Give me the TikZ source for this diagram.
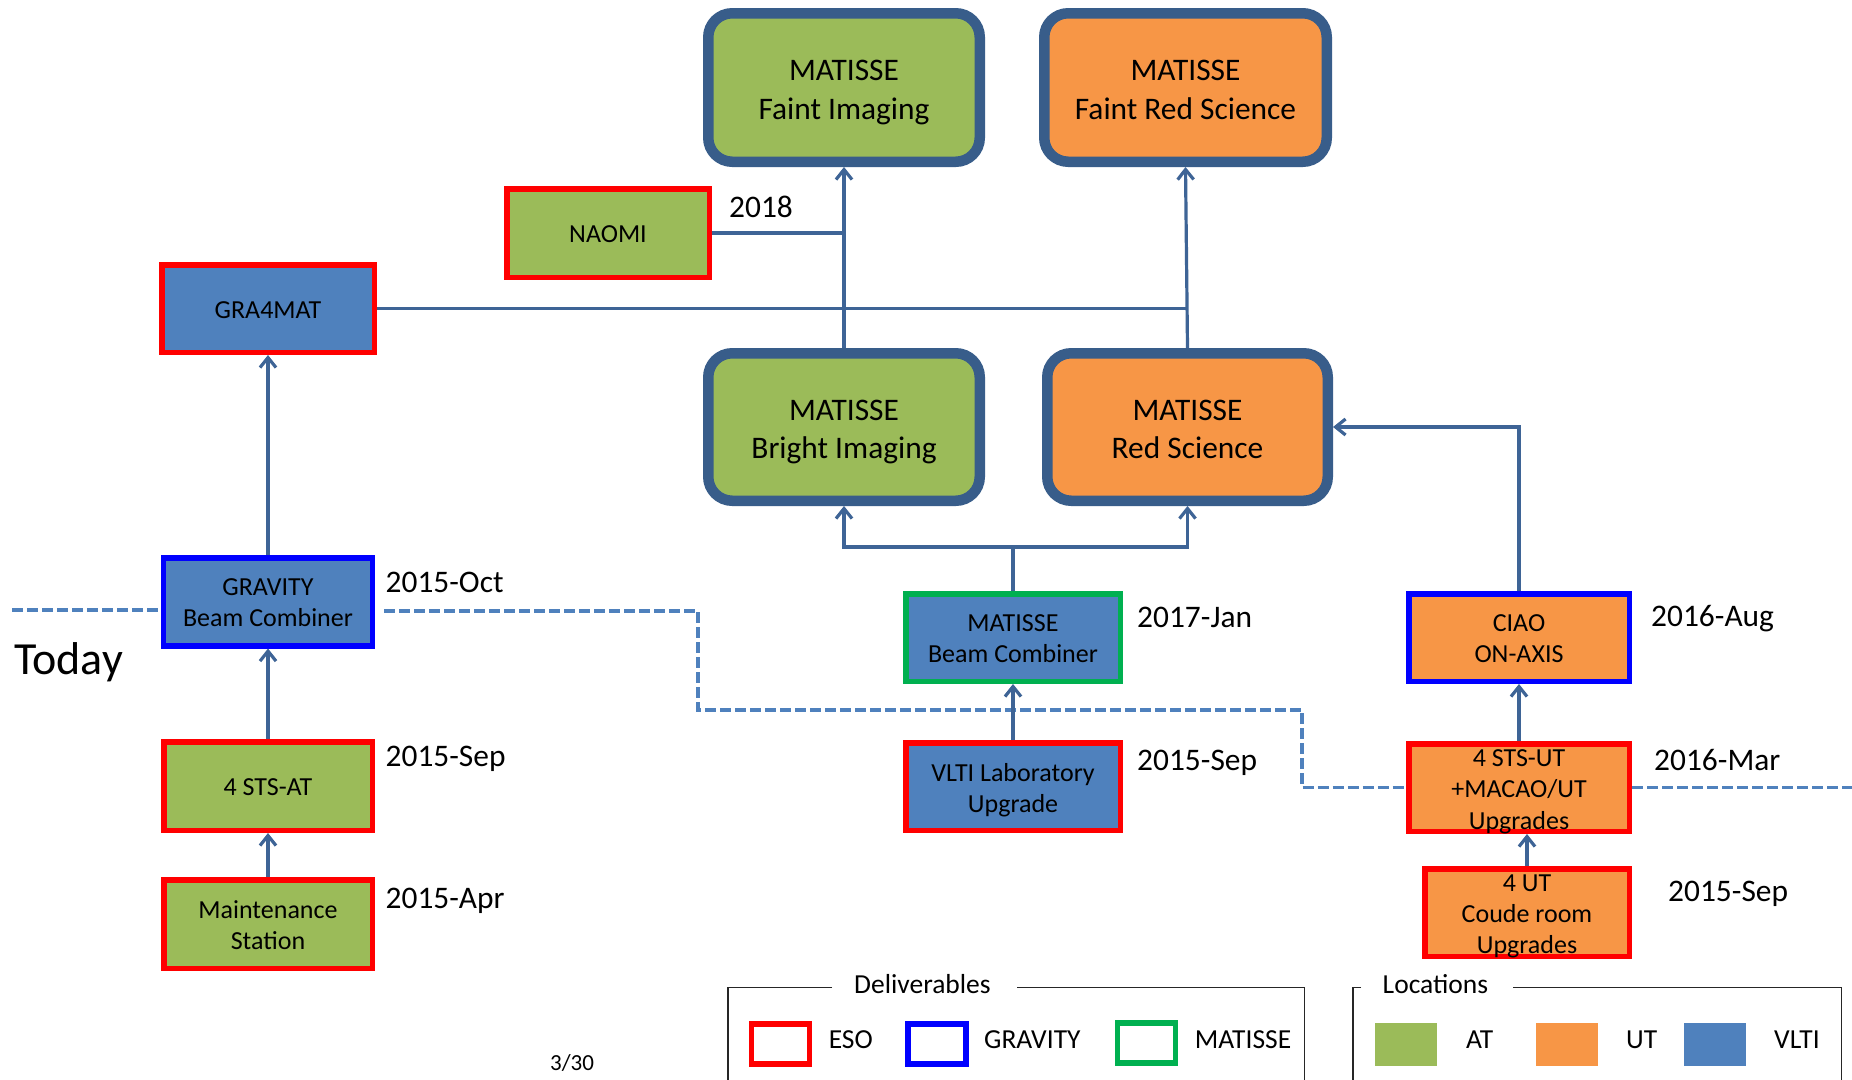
\documentclass[tikz,border=0pt]{standalone}
\usepackage{fontspec}
\setmainfont{Carlito}
\usetikzlibrary{arrows.meta}
\definecolor{cGreen}{HTML}{9BBB59}
\definecolor{cOrange}{HTML}{F79646}
\definecolor{cBlue}{HTML}{4F81BD}
\definecolor{cBord}{HTML}{385D8A}
\definecolor{cConn}{HTML}{3E6496}
\definecolor{cRed}{HTML}{FF0000}
\definecolor{cVivid}{HTML}{0000FF}
\definecolor{cMat}{HTML}{00B050}
\newcommand\fBig{\fontsize{31.4pt}{38.6pt}\selectfont}
\newcommand\fSmall{\fontsize{26pt}{31pt}\selectfont}
\newcommand\fSmallT{\fontsize{26pt}{31.3pt}\selectfont}
\newcommand\fDate{\fontsize{31.4pt}{38pt}\selectfont}
\newcommand\fLeg{\fontsize{27.5pt}{33pt}\selectfont}
\newcommand\fToday{\fontsize{46pt}{55pt}\selectfont}
\newcommand\fPage{\fontsize{23pt}{28pt}\selectfont}
\tikzset{
  bigbox/.style={rectangle, rounded corners=24pt, draw=cBord, line width=10.5pt, inner sep=0pt},
  smallbox/.style={rectangle, line width=5.5pt, inner sep=0pt},
  bigtext/.style={align=center, font=\fBig, inner sep=0pt, text depth=6.5pt, yshift=-5.5pt},
  smalltext/.style={align=center, font=\fSmall, inner sep=0pt, text depth=5.4pt, yshift=-3.8pt},
  threetext/.style={align=center, font=\fSmallT, inner sep=0pt, text depth=5.4pt, yshift=-4.5pt},
  conn/.style={draw=cConn, line width=3.2pt},
  arr/.style={conn, -{Straight Barb[length=10pt,width=16pt]}},
  todayline/.style={draw=cBlue, line width=3.5pt, dash pattern=on 11pt off 4pt},
  datelbl/.style={anchor=base west, inner sep=0pt, font=\fDate},
  leglbl/.style={anchor=base west, inner sep=0pt, font=\fLeg},
  legline/.style={draw=black!85, line width=1.5pt},
  legsq/.style={rectangle, fill=white, line width=5.5pt, minimum width=58pt, minimum height=40pt, inner sep=0pt},
  locsq/.style={rectangle, minimum width=62pt, minimum height=43pt, inner sep=0pt}
}
\begin{document}
\begin{tikzpicture}[x=1pt,y=-1pt]
\useasboundingbox (0,0) rectangle (1852,1079);
\fill[white] (0,0) rectangle (1852,1079);

% big MATISSE boxes
\node[bigbox, fill=cGreen, minimum width=271.5pt, minimum height=148.5pt] (faint) at (844,87.5) {};
\node[bigbox, fill=cOrange, minimum width=282.5pt, minimum height=148.5pt] (faintred) at (1185.5,87.5) {};
\node[bigbox, fill=cGreen, minimum width=271.5pt, minimum height=147.5pt] (bright) at (844,427) {};
\node[bigbox, fill=cOrange, minimum width=280.5pt, minimum height=147.5pt] (red) at (1187.5,427) {};
\node[bigtext] (faintT) at (faint.center) {MATISSE\\Faint Imaging};
\node[bigtext] (faintredT) at (faintred.center) {MATISSE\\Faint Red Science};
\node[bigtext] (brightT) at (bright.center) {MATISSE\\Bright Imaging};
\node[bigtext] (redT) at (red.center) {MATISSE\\Red Science};

% small boxes
\node[smallbox, fill=cBlue, draw=cRed, minimum width=212.5pt, minimum height=87.5pt] (gra4) at (268,308.5) {};
\node[smallbox, fill=cGreen, draw=cRed, minimum width=202.5pt, minimum height=88.5pt] (naomi) at (608,233) {};
\node[smallbox, fill=cBlue, draw=cVivid, minimum width=209pt, minimum height=88pt] (grav) at (268,601.8) {};
\node[smallbox, fill=cGreen, draw=cRed, minimum width=208.5pt, minimum height=88.5pt] (stsat) at (268,786) {};
\node[smallbox, fill=cGreen, draw=cRed, minimum width=208.5pt, minimum height=88.5pt] (maint) at (268,924) {};
\node[smallbox, fill=cBlue, draw=cMat, minimum width=214.5pt, minimum height=87.5pt] (mbc) at (1013,637.5) {};
\node[smallbox, fill=cBlue, draw=cRed, minimum width=214.5pt, minimum height=87.5pt] (vlti) at (1013,786.5) {};
\node[smallbox, fill=cOrange, draw=cVivid, minimum width=220.5pt, minimum height=87.5pt] (ciao) at (1519,637.5) {};
\node[smallbox, fill=cOrange, draw=cRed, minimum width=220.5pt, minimum height=87.5pt] (stsut) at (1519,787.5) {};
\node[smallbox, fill=cOrange, draw=cRed, minimum width=204.5pt, minimum height=87.5pt] (ut4) at (1527,912.5) {};
\node[smalltext] (gra4T) at (gra4.center) {GRA4MAT};
\node[smalltext] (naomiT) at (naomi.center) {NAOMI};
\node[smalltext] (gravT) at (grav.center) {GRAVITY\\Beam Combiner};
\node[smalltext] (stsatT) at (stsat.center) {4 STS-AT};
\node[smalltext] (maintT) at (maint.center) {Maintenance\\Station};
\node[smalltext] (mbcT) at (mbc.center) {MATISSE\\Beam Combiner};
\node[smalltext] (vltiT) at (vlti.center) {VLTI Laboratory\\Upgrade};
\node[smalltext] (ciaoT) at (ciao.center) {CIAO\\ON-AXIS};
\node[threetext] (stsutT) at (stsut.center) {4 STS-UT\\+MACAO/UT\\Upgrades};
\node[threetext] (ut4T) at (ut4.center) {4 UT\\Coude room\\Upgrades};

% today line
\coordinate (t0) at (12,610);
\coordinate (t1) at (384,611);
\coordinate (t2) at (698,611);
\coordinate (t3) at (698,710);
\coordinate (t4) at (1302,710);
\coordinate (t5) at (1302,787.5);
\coordinate (t6) at (1852,787.5);
\draw[todayline] (t0) -- (t0 -| grav.west);
\draw[todayline] (t1) -- (t2) -- (t3) -- (t4) -- (t5) -- (stsut.west);
\draw[todayline] (stsut.east) -- (t6);

% connectors
\draw[arr] (grav.north) -- (gra4.south);
\draw[arr] (stsat.north) -- (grav.south);
\draw[arr] (maint.north) -- (stsat.south);
\draw[arr] (vlti.north) -- (mbc.south);
\coordinate (j1) at (1013,547);
\draw[conn] (mbc.north) -- (j1);
\draw[arr] (j1) -| (bright.south);
\draw[arr] (j1) -| (red.south);
\draw[arr] (bright.north) -- (faint.south);
\draw[arr] (red.north) -- (faintred.south);
\draw[conn] (gra4.east) -- (gra4.east -| faintred.south);
\draw[conn] (naomi.east) -- (naomi.east -| faint.south);
\draw[arr] (ciao.north) |- (red.east);
\draw[arr] (stsut.north) -- (ciao.south);
\draw[arr] (ut4.north) -- (ut4.north |- stsut.south);

% labels
\node[anchor=base west, inner sep=0pt, font=\fToday] (today) at (14,674) {Today};
\node[datelbl] (d2018) at (729,217) {2018};
\node[datelbl] (doct) at (385.5,592) {2015-Oct};
\node[datelbl] (dsep1) at (385.5,766) {2015-Sep};
\node[datelbl] (dapr) at (385.5,908) {2015-Apr};
\node[datelbl] (djan) at (1137,627) {2017-Jan};
\node[datelbl] (dsep2) at (1137,770) {2015-Sep};
\node[datelbl] (daug) at (1651,626) {2016-Aug};
\node[datelbl] (dmar) at (1654,770) {2016-Mar};
\node[datelbl] (dsep3) at (1668,901) {2015-Sep};
\node[anchor=base west, inner sep=0pt, font=\fPage] (page) at (550,1070) {3/30};

% legend: deliverables
\draw[legline] (832,987.6) -- (728,987.6) -- (728,1080);
\draw[legline] (1017,987.6) -- (1304.6,987.6) -- (1304.6,1080);
\node[leglbl] (tdel) at (854,993.7) {Deliverables};
\node[legsq, draw=cRed] (sqeso) at (780.5,1044) {};
\node[legsq, draw=cVivid] (sqgrav) at (937,1044) {};
\node[legsq, draw=cMat] (sqmat) at (1146.3,1043) {};
\node[leglbl] (leso) at (828.6,1048) {ESO};
\node[leglbl] (lgrav) at (984,1048) {GRAVITY};
\node[leglbl] (lmat) at (1194.7,1048) {MATISSE};

% legend: locations
\draw[legline] (1361,987.6) -- (1352.8,987.6) -- (1352.8,1080);
\draw[legline] (1513,987.6) -- (1841.5,987.6) -- (1841.5,1080);
\node[leglbl] (tloc) at (1382.5,993.7) {Locations};
\node[locsq, fill=cGreen] (sqat) at (1406,1044.5) {};
\node[locsq, fill=cOrange] (squt) at (1566.5,1044.5) {};
\node[locsq, fill=cBlue] (sqvlti) at (1715,1044.5) {};
\node[leglbl] (lat) at (1466,1048) {AT};
\node[leglbl] (lut) at (1626,1048) {UT};
\node[leglbl] (lvlti) at (1774,1048) {VLTI};
\end{tikzpicture}
\end{document}
